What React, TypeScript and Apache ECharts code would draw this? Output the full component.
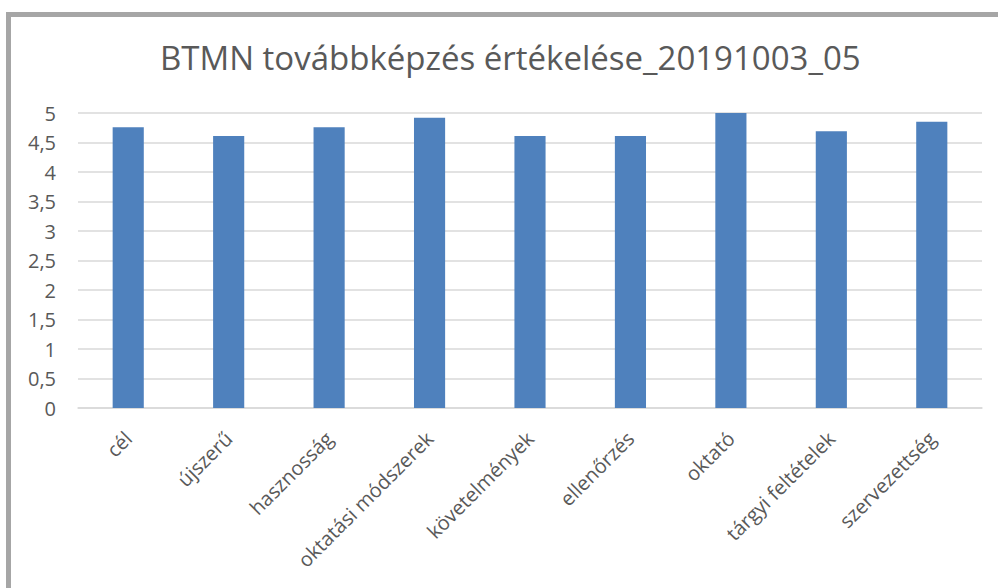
import React, { useEffect, useRef } from "react";
import * as echarts from "echarts";

const title = "BTMN továbbképzés értékelése_20191003_05";
const categories = [
  "cél",
  "újszerű",
  "hasznosság",
  "oktatási módszerek",
  "követelmények",
  "ellenőrzés",
  "oktató",
  "tárgyi feltételek",
  "szervezettség",
];
const values = [4.76, 4.61, 4.76, 4.92, 4.61, 4.61, 5.0, 4.69, 4.85];

const FONT = "'Open Sans', sans-serif";
const TEXT = "#595959";

export default function App() {
  const ref = useRef<HTMLDivElement>(null);
  useEffect(() => {
    if (!ref.current) return;
    const chart = echarts.init(ref.current, undefined, { renderer: "svg" });
    chart.setOption({
      animation: false,
      backgroundColor: "#ffffff",
      title: {
        text: title,
        left: 155,
        top: 36,
        textStyle: { fontFamily: FONT, fontSize: 33, fontWeight: "normal", color: TEXT },
      },
      graphic: [
        { type: "rect", shape: { x: 6, y: 12, width: 5, height: 600 }, style: { fill: "#a6a6a6" } },
        { type: "rect", shape: { x: 6, y: 12, width: 1000, height: 5 }, style: { fill: "#a6a6a6" } },
      ],
      grid: { left: 78, right: 16, top: 113, bottom: 180, containLabel: false },
      xAxis: {
        type: "category",
        data: categories,
        axisLine: { lineStyle: { color: "#d9d9d9", width: 1.5 } },
        axisTick: { show: false },
        axisLabel: {
          rotate: 45,
          margin: 27,
          interval: 0,
          color: TEXT,
          fontFamily: FONT,
          fontSize: 20,
        },
      },
      yAxis: {
        type: "value",
        min: 0,
        max: 5,
        interval: 0.5,
        axisLine: { show: false },
        axisTick: { show: false },
        splitLine: { lineStyle: { color: "#d9d9d9", width: 1.5 } },
        axisLabel: {
          margin: 22,
          color: TEXT,
          fontFamily: FONT,
          fontSize: 20,
          formatter: (v: number) => String(v).replace(".", ","),
        },
      },
      series: [
        {
          type: "bar",
          data: values,
          barWidth: "31%",
          itemStyle: { color: "#4f81bd" },
        },
      ],
    });
    return () => chart.dispose();
  }, []);
  return (
    <div
      ref={ref}
      style={{ position: "fixed", left: 0, top: 0, width: 998, height: 588 }}
    />
  );
}
